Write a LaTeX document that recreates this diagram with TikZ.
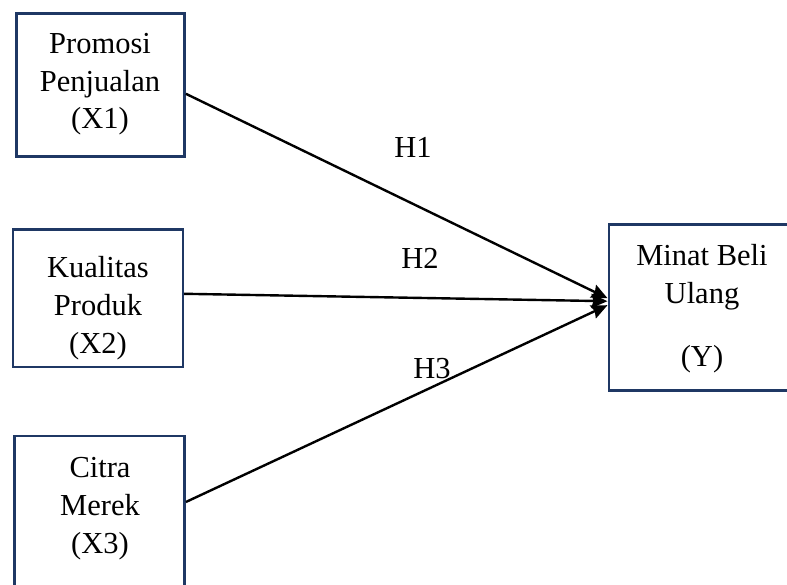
\documentclass[tikz,border=0pt]{standalone}
\usepackage{fontspec}
\setmainfont{Liberation Serif}
\usetikzlibrary{arrows.meta}
\definecolor{boxline}{HTML}{1F3864}
\tikzset{
  varbox/.style={draw=boxline, line width=2.6pt, fill=none, inner sep=0pt},
  txt/.style={anchor=base, inner sep=0pt, font=\fontsize{30.5}{37}\selectfont},
  hyp/.style={draw=black, line width=2.4pt, -{Stealth[length=16pt,width=14pt,inset=2pt]}},
  hlabel/.style={anchor=center, inner sep=0pt, font=\fontsize{30.5}{37}\selectfont}
}
\begin{document}
\begin{tikzpicture}[x=1pt,y=-1pt]
\clip (0,0) rectangle (787,585);
\fill[white] (0,0) rectangle (787,585);
% boxes
\node[varbox, minimum width=168pt, minimum height=143pt] (x1) at (100.6,84.8) {};
\node[varbox, minimum width=170pt, minimum height=137.5pt] (x2) at (97.9,298.3) {};
\node[varbox, minimum width=170pt, minimum height=156pt] (x3) at (99.6,514) {};
\node[varbox, minimum width=188pt, minimum height=166pt] (y) at (702.8,307.7) {};
% texts
\node[txt] (x1a) at (100,54) {Promosi};
\node[txt] (x1b) at (100,92) {Penjualan};
\node[txt] (x1c) at (100,129) {(X1)};
\node[txt] (x2a) at (98,278) {Kualitas};
\node[txt] (x2b) at (98,316) {Produk};
\node[txt] (x2c) at (98,353) {(X2)};
\node[txt] (x3a) at (100,477) {Citra};
\node[txt] (x3b) at (100,515) {Merek};
\node[txt] (x3c) at (100,553) {(X3)};
\node[txt] (ya) at (702,266) {Minat Beli};
\node[txt] (yb) at (702,304) {Ulang};
\node[txt] (yc) at (702,366) {(Y)};
% connectors
\draw[hyp] ([yshift=-9pt]x1.east) -- ([yshift=9.5pt]y.west);
\draw[hyp] ([yshift=4.5pt]x2.east) -- ([yshift=6.5pt]y.west);
\draw[hyp] ([yshift=12pt]x3.east) -- ([yshift=2.5pt]y.west);
% labels
\node[hlabel] (h1) at (413,147) {H1};
\node[hlabel] (h2) at (420,258) {H2};
\node[hlabel] (h3) at (432,369) {H3};
\end{tikzpicture}
\end{document}
